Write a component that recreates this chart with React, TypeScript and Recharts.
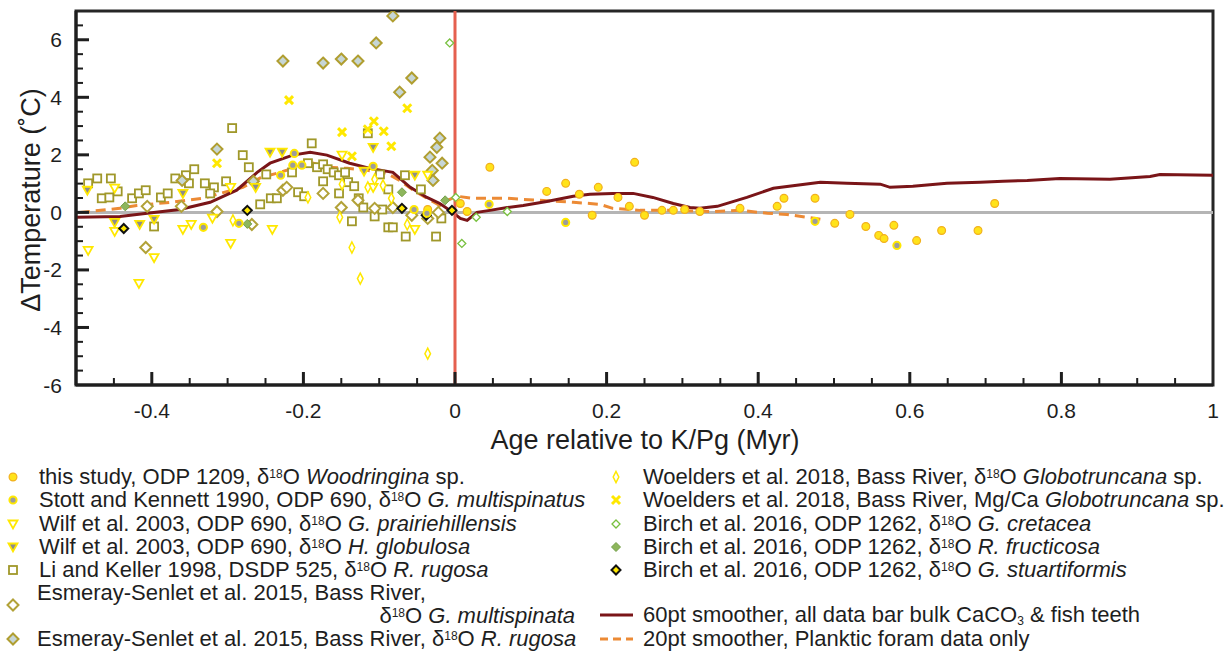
import React from 'react';
import { ComposedChart, Scatter, Line, XAxis, YAxis, ReferenceLine, ReferenceArea } from 'recharts';

type Pt = [number, number];

// Age (Myr rel. K/Pg), delta temperature (C)
const thisStudy: Pt[] = [
  [0.046, 1.57], [0.237, 1.74], [0.146, 1.01], [0.121, 0.73], [0.189, 0.87], [0.164, 0.63],
  [0.215, 0.52], [0.23, 0.21], [0.181, -0.1], [0.25, -0.1], [0.273, 0.07], [0.288, 0.07],
  [0.303, 0.1], [0.016, 0.03], [0.007, 0.31], [0.323, 0.03], [0.376, 0.14], [0.425, 0.21],
  [0.434, 0.49], [0.475, 0.49], [0.501, -0.38], [0.521, -0.07], [0.542, -0.49], [0.559, -0.8],
  [0.566, -0.91], [0.579, -0.45], [0.609, -0.98], [0.642, -0.63], [0.69, -0.63], [0.712, 0.31],
  [-0.036, 0.1],
];
const stottKennett: Pt[] = [
  [-0.332, -0.52], [-0.285, -0.38], [-0.23, 1.29], [-0.214, 1.64], [-0.202, 1.64], [-0.212, 2.05],
  [-0.108, 1.6], [-0.054, 0.1], [-0.037, -0.03], [0.045, 0.28], [0.146, -0.35], [0.475, -0.31],
  [0.583, -1.15],
];
const wilfPrairie: Pt[] = [
  [-0.484, -1.32], [-0.449, 0.84], [-0.449, -0.66], [-0.417, -2.47], [-0.397, -1.57], [-0.359, -0.59],
  [-0.348, -0.42], [-0.296, -1.08], [-0.296, 0.87], [-0.241, -0.59], [-0.149, 1.99], [-0.108, 0.87],
  [-0.053, -0.59], [-0.036, 1.29], [-0.32, -0.2],
];
const wilfGlobulosa: Pt[] = [
  [-0.485, 0.77], [-0.449, -0.35], [-0.416, -0.42], [-0.397, -0.24], [-0.359, 0.66], [-0.263, 0.87],
  [-0.244, 2.09], [-0.228, 2.09], [-0.108, 2.26], [-0.053, 1.29], [-0.12, 1.43],
];
const liKeller: Pt[] = [
  [-0.484, 1.01], [-0.472, 1.18], [-0.454, 1.18], [-0.466, 0.49], [-0.456, 0.52], [-0.445, 0.73],
  [-0.426, 0.49], [-0.417, 0.66], [-0.408, 0.77], [-0.397, -0.49], [-0.388, 0.52], [-0.379, 0.66],
  [-0.369, 1.18], [-0.355, 1.29], [-0.351, 1.01], [-0.344, 1.5], [-0.33, 1.01], [-0.318, 0.87],
  [-0.323, 0.66], [-0.302, 1.08], [-0.294, 2.93], [-0.28, 1.99], [-0.272, 1.57], [-0.257, 0.28],
  [-0.249, 1.32], [-0.243, 0.49], [-0.235, 0.49], [-0.215, 1.39], [-0.207, 0.7], [-0.199, 0.56],
  [-0.194, 1.71], [-0.189, 2.4], [-0.182, 1.57], [-0.174, 1.67], [-0.174, 1.08], [-0.168, 1.5],
  [-0.16, 1.39], [-0.153, 1.29], [-0.153, 0.66], [-0.145, 1.39], [-0.141, 1.05], [-0.133, 0.91],
  [-0.127, 0.49], [-0.121, 0.17], [-0.136, -0.31], [-0.115, 2.75], [-0.106, -0.14], [-0.099, 1.32],
  [-0.096, 0.1], [-0.088, 0.8], [-0.088, -0.52], [-0.082, -0.52], [-0.066, 1.29], [-0.065, -0.84],
  [-0.045, 0.8], [-0.025, -0.84], [-0.018, -0.21],
];
const esmerayMulti: Pt[] = [
  [-0.406, 0.21], [-0.361, 0.21], [-0.314, 0.03], [-0.408, -1.22], [-0.268, -0.42], [-0.227, 0.77],
  [-0.222, 0.87], [-0.174, 0.66], [-0.15, 0.17], [-0.128, 0.42], [-0.106, 0.14], [-0.082, 0.17],
  [-0.057, -0.1], [-0.036, -0.21], [-0.022, 0.0],
];
const esmerayRugosa: Pt[] = [
  [-0.227, 5.26], [-0.174, 5.19], [-0.15, 5.33], [-0.128, 5.26], [-0.104, 5.89], [-0.082, 6.83],
  [-0.057, 4.67], [-0.073, 4.18], [-0.314, 2.2], [-0.36, 1.11], [-0.266, 1.08], [-0.02, 2.58],
  [-0.024, 2.26], [-0.033, 1.92], [-0.017, 1.71], [-0.03, 1.46], [-0.029, 1.11],
];
const woeldersD18O: Pt[] = [
  [-0.293, -0.28], [-0.194, 0.52], [-0.149, 0.98], [-0.152, -0.17], [-0.136, -1.22], [-0.125, -2.3],
  [-0.115, 0.87], [-0.106, 1.15], [-0.095, 0.94], [-0.084, 0.49], [-0.063, -0.42], [-0.036, -4.91],
];
const woeldersMgCa: Pt[] = [
  [-0.314, 1.71], [-0.219, 3.9], [-0.149, 2.79], [-0.136, 1.95], [-0.115, 2.89], [-0.107, 3.17],
  [-0.094, 2.82], [-0.084, 2.3], [-0.063, 3.62],
];
const birchCretacea: Pt[] = [[-0.007, 5.89], [0.001, 0.52], [0.028, -0.17], [0.009, -1.08], [0.069, 0.03]];
const birchFructicosa: Pt[] = [[-0.435, 0.21], [-0.274, -0.4], [-0.07, 0.7], [-0.013, 0.42]];
const birchStuarti: Pt[] = [[-0.437, -0.56], [-0.274, 0.07], [-0.07, 0.14], [-0.038, -0.1], [-0.004, 0.07]];

const smoother60: Pt[] = [
  [-0.5, -0.17], [-0.442, -0.14], [-0.406, -0.03], [-0.363, 0.1], [-0.323, 0.35], [-0.288, 0.77],
  [-0.261, 1.39], [-0.244, 1.71], [-0.214, 1.99], [-0.191, 2.09], [-0.169, 1.99], [-0.139, 1.71],
  [-0.112, 1.53], [-0.082, 1.39], [-0.059, 0.87], [-0.037, 0.52], [-0.02, 0.31], [-0.003, 0.0],
  [0.007, -0.21], [0.016, -0.28], [0.029, 0.0], [0.046, 0.07], [0.069, 0.17], [0.09, 0.24],
  [0.121, 0.38], [0.156, 0.56], [0.178, 0.63], [0.208, 0.66], [0.235, 0.66], [0.261, 0.52],
  [0.288, 0.31], [0.31, 0.17], [0.323, 0.14], [0.346, 0.21], [0.385, 0.52], [0.42, 0.84],
  [0.451, 0.94], [0.482, 1.05], [0.517, 1.01], [0.561, 0.98], [0.574, 0.87], [0.604, 0.91],
  [0.649, 1.01], [0.693, 1.05], [0.723, 1.08], [0.755, 1.11], [0.798, 1.18], [0.864, 1.15],
  [0.917, 1.25], [0.93, 1.32], [1.0, 1.29],
];
const smoother20: Pt[] = [
  [-0.495, 0.0], [-0.442, 0.14], [-0.42, 0.24], [-0.376, 0.35], [-0.332, 0.49], [-0.31, 0.66],
  [-0.28, 0.87], [-0.257, 1.2], [-0.231, 1.39], [-0.214, 1.53], [-0.191, 1.74], [-0.169, 1.57],
  [-0.142, 1.53], [-0.116, 1.46], [-0.09, 1.36], [-0.073, 1.11], [-0.055, 0.77], [-0.037, 0.49],
  [-0.02, 0.24], [-0.01, 0.42], [0.003, 0.56], [0.024, 0.49], [0.046, 0.49], [0.069, 0.49],
  [0.09, 0.45], [0.112, 0.42], [0.156, 0.35], [0.178, 0.31], [0.191, 0.28], [0.208, 0.14],
  [0.244, 0.07], [0.288, 0.07], [0.34, 0.03], [0.376, 0.07], [0.412, -0.03], [0.438, -0.07],
  [0.464, -0.17], [0.482, -0.24],
];

const xTicks = [
  -0.5, -0.45, -0.4, -0.35, -0.3, -0.25, -0.2, -0.15, -0.1, -0.05, 0, 0.05, 0.1, 0.15, 0.2, 0.25,
  0.3, 0.35, 0.4, 0.45, 0.5, 0.55, 0.6, 0.65, 0.7, 0.75, 0.8, 0.85, 0.9, 0.95, 1,
];
const xLabels = ['-0.4', '-0.2', '0', '0.2', '0.4', '0.6', '0.8', '1'];
const yTicks = [
  -6, -5.5, -5, -4.5, -4, -3.5, -3, -2.5, -2, -1.5, -1, -0.5, 0, 0.5, 1, 1.5, 2, 2.5, 3, 3.5, 4,
  4.5, 5, 5.5, 6, 6.5, 7,
];
const yLabels = ['-6', '-4', '-2', '0', '2', '4', '6'];

const FONT = '"Liberation Sans", Arial, sans-serif';
const YEL = '#FFE800';
const INK = '#1e1e1e';

const toObj = (pts: Pt[]) => pts.map(([x, y]) => ({ x, y }));

const diamond = (cx: number, cy: number, w: number, h: number) =>
  `M${cx},${cy - h}L${cx + w},${cy}L${cx},${cy + h}L${cx - w},${cy}Z`;

function Marker({ kind, cx, cy }: { kind: string; cx: number; cy: number }) {
  switch (kind) {
    case 'circle':
      return <circle cx={cx} cy={cy} r={3.9} fill="#FFE31A" stroke="#F2B01E" strokeWidth={1.2} />;
    case 'circleGray':
      return <circle cx={cx} cy={cy} r={3.6} fill="#9C9C9C" stroke={YEL} strokeWidth={2} />;
    case 'tri':
      return <path d={`M${cx - 4.5},${cy - 3.5}L${cx + 4.5},${cy - 3.5}L${cx},${cy + 4.5}Z`} fill="#fff" stroke={YEL} strokeWidth={1.8} />;
    case 'triGray':
      return <path d={`M${cx - 4.5},${cy - 3.5}L${cx + 4.5},${cy - 3.5}L${cx},${cy + 4.5}Z`} fill="#8C8C8C" stroke={YEL} strokeWidth={1.8} />;
    case 'square':
      return <rect x={cx - 4} y={cy - 4} width={8} height={8} fill="#fff" stroke="#A0982A" strokeWidth={1.8} />;
    case 'diamond':
      return <path d={diamond(cx, cy, 5.5, 5.5)} fill="#fff" stroke="#B2A238" strokeWidth={2} />;
    case 'diamondBlue':
      return <path d={diamond(cx, cy, 5.5, 5.5)} fill="#C6D6D6" stroke="#B09E30" strokeWidth={2} />;
    case 'thin':
      return <path d={diamond(cx, cy, 2.8, 5.5)} fill="#fff" stroke={YEL} strokeWidth={1.5} />;
    case 'cross':
      return (
        <g stroke={YEL} strokeWidth={3}>
          <line x1={cx - 4} y1={cy - 4} x2={cx + 4} y2={cy + 4} />
          <line x1={cx - 4} y1={cy + 4} x2={cx + 4} y2={cy - 4} />
        </g>
      );
    case 'greenOpen':
      return <path d={diamond(cx, cy, 4, 4)} fill="#fff" stroke="#78C03F" strokeWidth={1.3} />;
    case 'greenFill':
      return <path d={diamond(cx, cy, 4.5, 4.5)} fill="#8DB65C" stroke="#74A04A" strokeWidth={1} />;
    case 'black':
      return <path d={diamond(cx, cy, 4.5, 4.5)} fill={YEL} stroke="#111" strokeWidth={2} />;
    default:
      return null;
  }
}

const series: { name: string; kind: string; pts: Pt[] }[] = [
  { name: 'liKeller', kind: 'square', pts: liKeller },
  { name: 'esmerayMulti', kind: 'diamond', pts: esmerayMulti },
  { name: 'esmerayRugosa', kind: 'diamondBlue', pts: esmerayRugosa },
  { name: 'wilfPrairie', kind: 'tri', pts: wilfPrairie },
  { name: 'wilfGlobulosa', kind: 'triGray', pts: wilfGlobulosa },
  { name: 'woeldersD18O', kind: 'thin', pts: woeldersD18O },
  { name: 'woeldersMgCa', kind: 'cross', pts: woeldersMgCa },
  { name: 'birchCretacea', kind: 'greenOpen', pts: birchCretacea },
  { name: 'birchFructicosa', kind: 'greenFill', pts: birchFructicosa },
  { name: 'birchStuarti', kind: 'black', pts: birchStuarti },
  { name: 'thisStudy', kind: 'circle', pts: thisStudy },
  { name: 'stottKennett', kind: 'circleGray', pts: stottKennett },
];

const isMultiple = (v: number, step: number) => Math.abs(v / step - Math.round(v / step)) < 1e-6;

const XTick = (p: any) => {
  const v = p.payload.value;
  const major = isMultiple(v, 0.2);
  const edge = v <= -0.5 + 1e-9 || v >= 1 - 1e-9;
  const label = xLabels.find((s) => Math.abs(parseFloat(s) - v) < 1e-6);
  return (
    <g>
      {!edge && <line x1={p.x} x2={p.x} y1={p.y} y2={p.y - (major ? 13 : 7)} stroke={INK} strokeWidth={major ? 3 : 2} />}
      {label && (
        <text x={p.x} y={p.y + 25} textAnchor="middle" dominantBaseline="central" fontSize={21} fontFamily={FONT} fill={INK}>
          {label}
        </text>
      )}
    </g>
  );
};

const YTick = (p: any) => {
  const v = p.payload.value;
  const major = isMultiple(v, 2);
  const edge = v <= -6 + 1e-9 || v >= 7 - 1e-9;
  const label = yLabels.find((s) => Math.abs(parseFloat(s) - v) < 1e-6);
  return (
    <g>
      {!edge && <line x1={p.x} x2={p.x + (major ? 13 : 7)} y1={p.y} y2={p.y} stroke={INK} strokeWidth={major ? 3 : 2} />}
      {label && (
        <text x={p.x - 14} y={p.y} textAnchor="end" dominantBaseline="central" fontSize={21} fontFamily={FONT} fill={INK}>
          {label}
        </text>
      )}
    </g>
  );
};

const Sup = ({ children }: { children: React.ReactNode }) => (
  <span style={{ fontSize: 12, position: 'relative', top: -6 }}>{children}</span>
);
const Sub = ({ children }: { children: React.ReactNode }) => (
  <span style={{ fontSize: 12, position: 'relative', top: 3 }}>{children}</span>
);
const d18 = (
  <>
    δ<Sup>18</Sup>O
  </>
);

const LegendIcon = ({ kind, x, y }: { kind: string; x: number; y: number }) => (
  <svg width={20} height={20} style={{ position: 'absolute', left: x - 10, top: y - 10 }}>
    <Marker kind={kind} cx={10} cy={10} />
  </svg>
);

const legendRows: { kind: string; x: number; y: number; tx: number; text: React.ReactNode }[] = [
  { kind: 'circle', x: 13, y: 477, tx: 39, text: <>this study, ODP 1209, {d18} <i>Woodringina</i> sp.</> },
  { kind: 'circleGray', x: 13, y: 500, tx: 39, text: <>Stott and Kennett 1990, ODP 690, {d18} <i>G. multispinatus</i></> },
  { kind: 'tri', x: 13, y: 524, tx: 39, text: <>Wilf et al. 2003, ODP 690, {d18} <i>G. prairiehillensis</i></> },
  { kind: 'triGray', x: 13, y: 547, tx: 39, text: <>Wilf et al. 2003, ODP 690, {d18} <i>H. globulosa</i></> },
  { kind: 'square', x: 13, y: 570, tx: 39, text: <>Li and Keller 1998, DSDP 525, {d18} <i>R. rugosa</i></> },
  { kind: 'diamondBlue', x: 13, y: 639, tx: 37, text: <>Esmeray-Senlet et al. 2015, Bass River, {d18} <i>R. rugosa</i></> },
  { kind: 'thin', x: 616, y: 477, tx: 643, text: <>Woelders et al. 2018, Bass River, {d18} <i>Globotruncana</i> sp.</> },
  { kind: 'cross', x: 616, y: 500, tx: 643, text: <>Woelders et al. 2018, Bass River, Mg/Ca <i>Globotruncana</i> sp.</> },
  { kind: 'greenOpen', x: 616, y: 524, tx: 643, text: <>Birch et al. 2016, ODP 1262, {d18} <i>G. cretacea</i></> },
  { kind: 'greenFill', x: 616, y: 547, tx: 643, text: <>Birch et al. 2016, ODP 1262, {d18} <i>R. fructicosa</i></> },
  { kind: 'black', x: 616, y: 570, tx: 643, text: <>Birch et al. 2016, ODP 1262, {d18} <i>G. stuartiformis</i></> },
];

const textStyle: React.CSSProperties = {
  position: 'absolute',
  fontSize: 22,
  lineHeight: '22px',
  height: 22,
  whiteSpace: 'nowrap',
  color: INK,
};

export default function App() {
  return (
    <div style={{ position: 'absolute', left: 0, top: 0, width: 1225, height: 652, background: '#fff', fontFamily: FONT }}>
      <ComposedChart width={1225} height={460} margin={{ top: 11, right: 12, bottom: 0, left: 0 }}>
        <XAxis
          dataKey="x"
          type="number"
          domain={[-0.5, 1]}
          allowDataOverflow
          ticks={xTicks}
          interval={0}
          tickLine={false}
          tickSize={0}
          tickMargin={0}
          height={75}
          axisLine={{ stroke: INK, strokeWidth: 3 }}
          tick={(p: any) => <XTick {...p} />}
          label={() => (
            <text x={645} y={440} textAnchor="middle" dominantBaseline="central" fontSize={27} fontFamily={FONT} fill={INK}>
              Age relative to K/Pg (Myr)
            </text>
          )}
        />
        <YAxis
          dataKey="y"
          type="number"
          domain={[-6, 7]}
          allowDataOverflow
          ticks={yTicks}
          interval={0}
          tickLine={false}
          tickSize={0}
          tickMargin={0}
          width={76}
          axisLine={{ stroke: INK, strokeWidth: 3 }}
          tick={(p: any) => <YTick {...p} />}
          label={() => (
            <text x={31} y={200} transform="rotate(-90 31 200)" textAnchor="middle" dominantBaseline="central" fontSize={27} fontFamily={FONT} fill={INK}>
              ΔTemperature (˚C)
            </text>
          )}
        />
        <ReferenceLine y={0} stroke="#B5B5B5" strokeWidth={3} />
        {series.map((s) => (
          <Scatter
            key={s.name}
            name={s.name}
            data={toObj(s.pts)}
            isAnimationActive={false}
            shape={(p: any) => <Marker kind={s.kind} cx={p.cx} cy={p.cy} />}
          />
        ))}
        <Line data={toObj(smoother20)} dataKey="y" type="linear" stroke="#EC8A35" strokeWidth={3} strokeDasharray="10 6" dot={false} isAnimationActive={false} />
        <Line data={toObj(smoother60)} dataKey="y" type="linear" stroke="#7A1518" strokeWidth={3} dot={false} isAnimationActive={false} />
        <ReferenceLine x={0} stroke="#E5604F" strokeWidth={3} />
        <ReferenceArea x1={-0.5} x2={1} y1={-6} y2={7} fill="none" stroke="#262626" strokeWidth={3} />
      </ComposedChart>

      {legendRows.map((r, i) => (
        <React.Fragment key={i}>
          <LegendIcon kind={r.kind} x={r.x} y={r.y} />
          <div style={{ ...textStyle, left: r.tx, top: r.y - 11 }}>{r.text}</div>
        </React.Fragment>
      ))}
      <LegendIcon kind="diamond" x={13} y={605} />
      <div style={{ ...textStyle, left: 37, top: 593 - 11 }}>Esmeray-Senlet et al. 2015, Bass River,</div>
      <div style={{ ...textStyle, right: 1225 - 575, top: 616 - 11, textAlign: 'right' }}>
        {d18} <i>G. multispinata</i>
      </div>
      <svg width={40} height={40} style={{ position: 'absolute', left: 598, top: 605 }}>
        <line x1={2} x2={35} y1={10} y2={10} stroke="#7A1518" strokeWidth={3} />
        <line x1={2} x2={35} y1={34} y2={34} stroke="#EC8A35" strokeWidth={3} strokeDasharray="8 5" />
      </svg>
      <div style={{ ...textStyle, left: 643, top: 615 - 11 }}>
        60pt smoother, all data bar bulk CaCO<Sub>3</Sub> &amp; fish teeth
      </div>
      <div style={{ ...textStyle, left: 643, top: 639 - 11 }}>20pt smoother, Planktic foram data only</div>
    </div>
  );
}
